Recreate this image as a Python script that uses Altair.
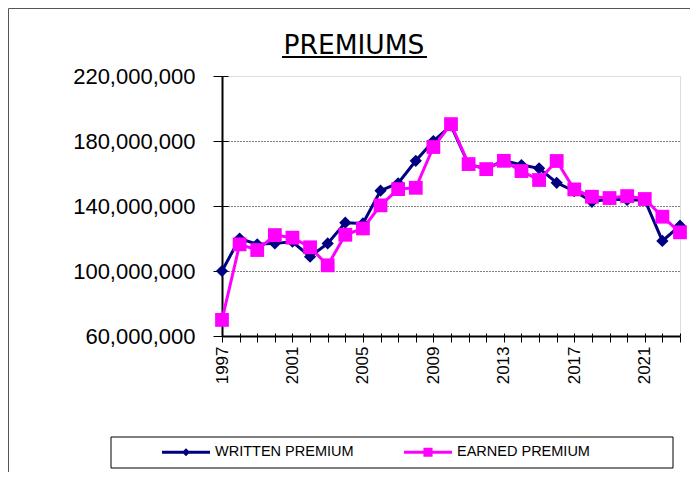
import altair as alt
import pandas as pd

years = list(range(1997, 2024))
written_m = [100.0, 120.0, 116.4, 117.0, 118.0, 108.8, 117.0, 129.7, 129.3, 149.4,
             154.0, 167.8, 180.0, 189.4, 165.5, 163.0, 168.0, 165.2, 163.2, 154.3,
             149.2, 142.6, 144.3, 143.7, 143.7, 118.5, 127.9]
earned_m = [69.9, 116.4, 112.9, 122.1, 120.5, 114.6, 103.5, 122.3, 126.2, 140.4,
            150.4, 151.2, 176.3, 190.4, 165.8, 162.7, 167.8, 161.5, 156.0, 167.7,
            150.2, 145.7, 144.9, 146.1, 144.3, 133.4, 123.8]
series_names = ["WRITTEN PREMIUM", "EARNED PREMIUM"]
series_colors = ["#000080", "#FF00FF"]
y_ticks = [60000000, 100000000, 140000000, 180000000, 220000000]
title_text = "PREMIUMS"

rows = []
for name, vals in zip(series_names, [written_m, earned_m]):
    for yr, v in zip(years, vals):
        rows.append({"year": yr, "value": v * 1e6, "series": name})
df = pd.DataFrame(rows)

W, H = 458, 260

xscale = alt.Scale(domain=[1997, 2023], nice=False, zero=False)
yscale = alt.Scale(domain=[60000000, 220000000], nice=False, zero=False)

# legend symbols: line segment plus marker (unit square -1..1)
legend_paths = [
    "M-1,-0.0625H1V0.0625H-1Z M0,-0.17L0.17,0L0,0.17L-0.17,0Z",
    "M-1,-0.0625H1V0.0625H-1Z M-0.19,-0.19H0.19V0.19H-0.19Z",
]

main_x = alt.Axis(
    orient="bottom", values=years, title=None, grid=False,
    labelExpr="(datum.value - 1997) % 4 == 0 ? datum.value : ''",
    labelAngle=270, labelFontSize=17, labelFont="Liberation Sans",
    labelColor="black", labelPadding=4, labelOverlap=False, labelFlush=False,
    tickSize=6, tickColor="black", domainColor="black", domainWidth=2)
main_y = alt.Axis(
    orient="left", values=y_ticks, title=None,
    labelExpr="format(datum.value, ',')",
    labelFontSize=22, labelFont="Liberation Sans", labelColor="black",
    tickSize=9, tickColor="black", labelPadding=18, labelOverlap=False,
    domainColor="black", domainWidth=2,
    grid=True, gridColor="black", gridDash=[1, 2], gridWidth=1,
    gridOpacity={"condition": {"test": "datum.value >= 220000000", "value": 0}, "value": 1})
inner_x = alt.Axis(orient="bottom", values=years, title=None, grid=False, labels=False,
                   domain=False, tickSize=3, tickColor="black", offset=-3)
inner_y = alt.Axis(orient="left", values=y_ticks, title=None, grid=False, labels=False,
                   domain=False, tickSize=6, tickColor="black", offset=-6)


def series_chart(i):
    return alt.Chart(df).transform_filter(alt.datum.series == series_names[i])


line_w = series_chart(0).mark_line(strokeWidth=3, color=series_colors[0]).encode(
    x=alt.X("year:Q", scale=xscale, axis=main_x),
    y=alt.Y("value:Q", scale=yscale, axis=main_y),
    order=alt.Order("year:Q"),
)
line_e = series_chart(1).mark_line(strokeWidth=3, color=series_colors[1]).encode(
    x=alt.X("year:Q", scale=xscale, axis=None),
    y=alt.Y("value:Q", scale=yscale, axis=None),
    order=alt.Order("year:Q"),
)
pts_w = series_chart(0).mark_point(filled=True, opacity=1, strokeWidth=0, shape="diamond",
                                   size=150, color=series_colors[0]).encode(
    x=alt.X("year:Q", scale=xscale, axis=inner_x),
    y=alt.Y("value:Q", scale=yscale, axis=inner_y),
)
pts_e = series_chart(1).mark_point(filled=True, opacity=1, strokeWidth=0, shape="square",
                                   size=190, color=series_colors[1]).encode(
    x=alt.X("year:Q", scale=xscale, axis=None),
    y=alt.Y("value:Q", scale=yscale, axis=None),
)

# legend-only layer (no marks drawn, legend comes from explicit scale domains)
legend_layer = alt.Chart(df).transform_filter("false").mark_point(
    filled=True, opacity=1, strokeWidth=0).encode(
    x=alt.X("year:Q", scale=xscale, axis=None),
    y=alt.Y("value:Q", scale=yscale, axis=None),
    color=alt.Color("series:N", scale=alt.Scale(domain=series_names, range=series_colors),
                    sort=series_names, legend=alt.Legend(
        orient="none", legendX=-60, legendY=352, direction="horizontal", title=None,
        symbolSize=2304, symbolStrokeWidth=0, symbolOpacity=1, labelFont="Liberation Sans",
        labelFontSize=14.5, labelColor="black", labelOffset=5, columnPadding=50,
        padding=0)),
    shape=alt.Shape("series:N", scale=alt.Scale(domain=series_names, range=legend_paths),
                    sort=series_names),
)

one = pd.DataFrame({"t": [title_text]})
title = alt.Chart(one).mark_text(font="DejaVu Sans", fontSize=26.5, align="center",
                                 baseline="alphabetic", color="black").encode(
    text="t:N", x=alt.value(132), y=alt.value(-22))
underline = alt.Chart(one).mark_rule(color="black", strokeWidth=2).encode(
    x=alt.value(60), x2=alt.value(205), y=alt.value(-19), y2=alt.value(-19))
legend_box = alt.Chart(one).mark_rect(fill=None, stroke="black", strokeWidth=1).encode(
    x=alt.value(-111), x2=alt.value(451), y=alt.value(361), y2=alt.value(392))
frame_left = alt.Chart(one).mark_rule(color="#555555", strokeWidth=1).encode(
    x=alt.value(-213.5), x2=alt.value(-213.5), y=alt.value(-67.5), y2=alt.value(400))
frame_top = alt.Chart(one).mark_rule(color="#555555", strokeWidth=1).encode(
    x=alt.value(-213.5), x2=alt.value(470), y=alt.value(-67.5), y2=alt.value(-67.5))

chart = alt.layer(line_w, line_e, pts_w, pts_e, legend_layer, title, underline, legend_box,
                  frame_left, frame_top).resolve_axis(
    x="independent", y="independent"
).properties(
    width=W, height=H,
    autosize=alt.AutoSizeParams(type="none"),
    padding={"left": 214, "top": 68, "right": 10, "bottom": 136},
).configure_view(stroke="#808080", strokeWidth=2).configure(font="Liberation Sans")

chart.save("out.html", embed_options={"renderer": "svg", "actions": False})
